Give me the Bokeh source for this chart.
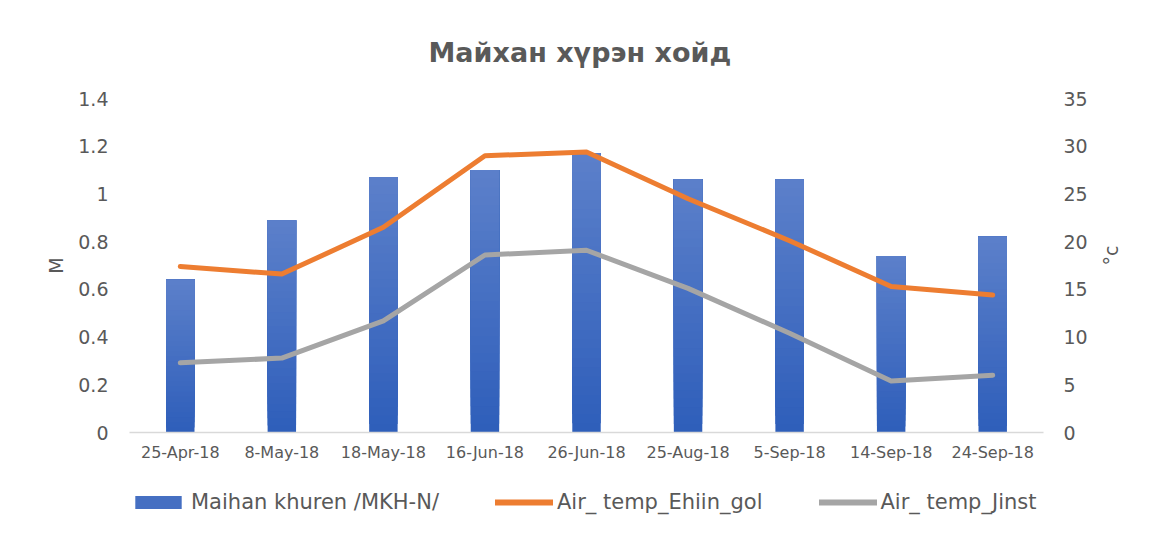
import math
from bokeh.plotting import figure
from bokeh.layouts import column
from bokeh.models import (Range1d, LinearAxis, FactorRange, FixedTicker, NumeralTickFormatter,
                          Legend, LegendItem)
from bokeh.embed import file_html
from bokeh.resources import INLINE

# ---------------- data ----------------
dates = ["25-Apr-18", "8-May-18", "18-May-18", "16-Jun-18", "26-Jun-18",
         "25-Aug-18", "5-Sep-18", "14-Sep-18", "24-Sep-18"]
water_level = [0.64, 0.89, 1.07, 1.10, 1.17, 1.06, 1.06, 0.74, 0.82]
air_temp_ehiin_gol = [17.4, 16.6, 21.5, 29.0, 29.4, 24.5, 20.1, 15.3, 14.4]
air_temp_jinst = [7.3, 7.8, 11.7, 18.6, 19.1, 15.1, 10.4, 5.4, 6.0]
left_ticks = [0, 0.2, 0.4, 0.6, 0.8, 1.0, 1.2, 1.4]
right_ticks = [0, 5, 10, 15, 20, 25, 30, 35]
series_names = ["Maihan khuren /MKH-N/", "Air_ temp_Ehiin_gol", "Air_ temp_Jinst"]
title_text = "Майхан хүрэн хойд"
left_title = "M"
right_title = "°c"

FONT = "DejaVu Sans"
TXT = "#595959"
BLUE_BOT = (46, 94, 186)
BLUE_TOP = (92, 128, 202)
ORANGE = "#ED7D31"
GRAY = "#A5A5A5"

p = figure(x_range=FactorRange(*dates), y_range=Range1d(0, 1.4),
           width=1150, height=465, output_backend="svg", toolbar_location=None,
           min_border_left=129, min_border_right=107, min_border_top=98, min_border_bottom=33,
           outline_line_color=None, background_fill_color="white", border_fill_color="white",
           title=title_text)
p.extra_y_ranges = {"temp": Range1d(0, 35)}
p.xgrid.grid_line_color = None
p.ygrid.grid_line_color = None

p.title.align = "left"
p.title.offset = 299
p.title.text_font = FONT
p.title.text_font_style = "bold"
p.title.text_font_size = "27px"
p.title.text_color = TXT
p.title.standoff = 62

# gradient bars (bottom darker, top lighter); overlapping segments to avoid seams
N = 30
for k in range(N):
    t = (k + 0.5) / N
    col = "#%02x%02x%02x" % tuple(int(round(BLUE_BOT[i] + (BLUE_TOP[i] - BLUE_BOT[i]) * t)) for i in range(3))
    bots = [v * k / N for v in water_level]
    p.vbar(x=dates, bottom=bots, top=water_level, width=0.28, fill_color=col, line_color=None)

p.line(x=dates, y=air_temp_ehiin_gol, y_range_name="temp", line_color=ORANGE,
       line_width=5, line_cap="round", line_join="round")
p.line(x=dates, y=air_temp_jinst, y_range_name="temp", line_color=GRAY,
       line_width=5, line_cap="round", line_join="round")

# axes
xa = p.xaxis[0]
xa.axis_line_color = "#D9D9D9"
xa.axis_line_width = 1.5
xa.major_tick_line_color = None
xa.major_tick_out = 0
xa.major_tick_in = 0
xa.major_label_standoff = 10
xa.major_label_text_font = FONT
xa.major_label_text_font_size = "16px"
xa.major_label_text_color = TXT

ya = p.yaxis[0]
ya.ticker = FixedTicker(ticks=left_ticks)
ya.formatter = NumeralTickFormatter(format="0.[0]")
ya.axis_line_color = None
ya.major_tick_line_color = None
ya.minor_tick_line_color = None
ya.major_tick_out = 0
ya.major_tick_in = 0
ya.major_label_standoff = 21
ya.major_label_text_font = FONT
ya.major_label_text_font_size = "19px"
ya.major_label_text_color = TXT
ya.axis_label = left_title
ya.axis_label_standoff = 8
ya.axis_label_text_font = FONT
ya.axis_label_text_font_size = "19px"
ya.axis_label_text_font_style = "normal"
ya.axis_label_text_color = TXT

ra = LinearAxis(y_range_name="temp", ticker=FixedTicker(ticks=right_ticks))
ra.axis_line_color = None
ra.major_tick_line_color = None
ra.minor_tick_line_color = None
ra.major_tick_out = 0
ra.major_tick_in = 0
ra.major_label_standoff = 20
ra.major_label_text_font = FONT
ra.major_label_text_font_size = "19px"
ra.major_label_text_color = TXT
ra.axis_label = right_title
ra.axis_label_standoff = 20
ra.axis_label_text_font = FONT
ra.axis_label_text_font_size = "19px"
ra.axis_label_text_font_style = "normal"
ra.axis_label_text_color = TXT
try:
    ra.axis_label_orientation = math.pi / 2
except Exception:
    pass
p.add_layout(ra, "right")

# ---------------- legend strip (renderers kept far outside its visible range) ----------------
q = figure(width=1150, height=65, output_backend="svg", toolbar_location=None,
           x_range=FactorRange(*dates), y_range=Range1d(1000, 1001),
           x_axis_type=None, y_axis_type=None,
           min_border_left=129, min_border_right=107, min_border_top=0, min_border_bottom=0,
           outline_line_color=None, background_fill_color="white", border_fill_color="white")
q.xgrid.grid_line_color = None
q.ygrid.grid_line_color = None
mid = "#%02x%02x%02x" % tuple((BLUE_BOT[i] + BLUE_TOP[i]) // 2 for i in range(3))
lg_bar = q.vbar(x=dates, top=water_level, width=0.28, fill_color=mid, line_color=None)
lg_or = q.line(x=dates, y=air_temp_ehiin_gol, line_color=ORANGE, line_width=6, line_cap="round")
lg_gr = q.line(x=dates, y=air_temp_jinst, line_color=GRAY, line_width=6, line_cap="round")

legend = Legend(items=[LegendItem(label=series_names[0], renderers=[lg_bar]),
                       LegendItem(label=series_names[1], renderers=[lg_or]),
                       LegendItem(label=series_names[2], renderers=[lg_gr])],
                orientation="horizontal", location=(0, 16),
                glyph_width=58, glyph_height=16, label_standoff=4, spacing=56,
                padding=0, margin=0, border_line_color=None, background_fill_alpha=0,
                label_text_font=FONT, label_text_font_size="21px", label_text_color=TXT)
q.add_layout(legend, "center")

layout = column(p, q, spacing=0)
open("out.html", "w").write(file_html(layout, INLINE))
